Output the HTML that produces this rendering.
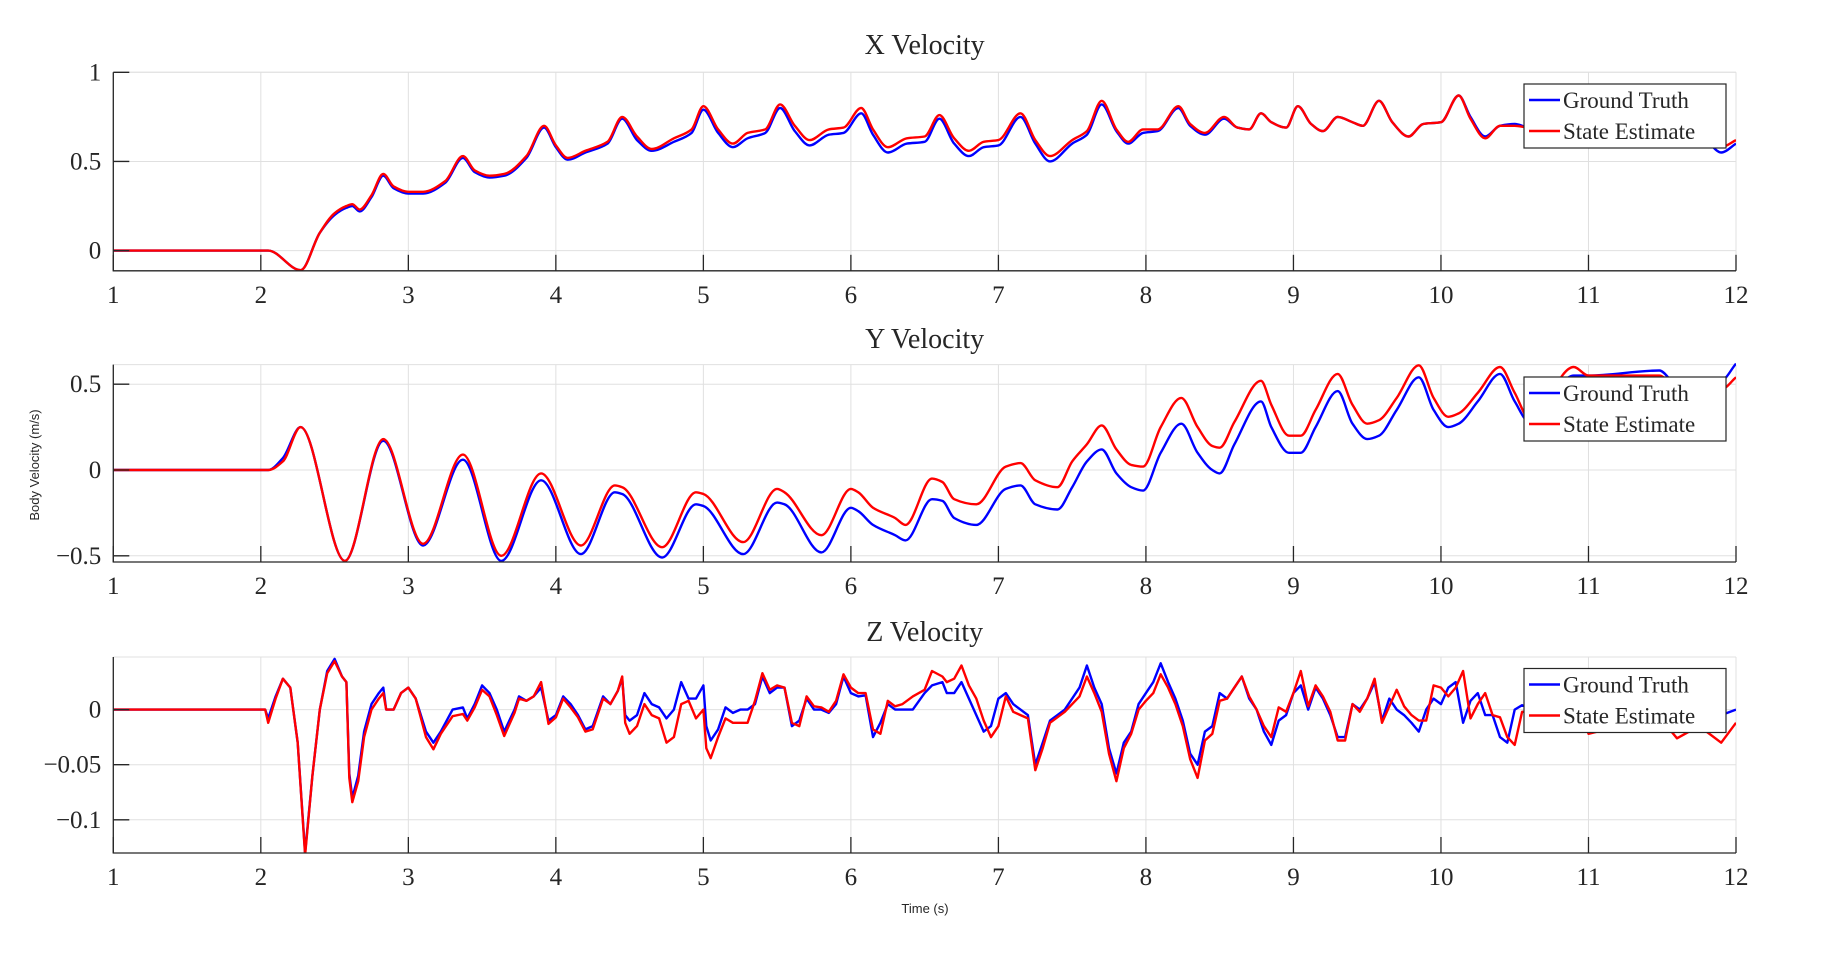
<!DOCTYPE html>
<html><head><meta charset="utf-8"><style>
html,body{margin:0;padding:0;background:#fff;}
svg{display:block;}
text{font-family:"Liberation Serif",serif;fill:#262626;}
</style></head><body>
<svg id="fig" width="1848" height="961" viewBox="0 0 1848 961"></svg>
<script>
// ---- data ----
const xTicks = [1,2,3,4,5,6,7,8,9,10,11,12];
const xT = [1,2.05,2.27,2.4,2.5,2.58,2.62,2.67,2.75,2.83,2.9,3.0,3.1,3.25,3.37,3.45,3.55,3.65,3.8,3.92,4.0,4.08,4.2,4.35,4.45,4.55,4.65,4.8,4.92,5.0,5.1,5.2,5.3,5.42,5.52,5.62,5.72,5.85,5.95,6.07,6.15,6.25,6.38,6.5,6.6,6.7,6.8,6.9,7.0,7.15,7.25,7.35,7.5,7.6,7.7,7.8,7.88,7.98,8.08,8.22,8.3,8.4,8.53,8.62,8.7,8.78,8.85,8.95,9.03,9.12,9.2,9.3,9.4,9.47,9.58,9.67,9.78,9.88,10.0,10.12,10.2,10.3,10.4,10.5,10.6,10.8,11.0,11.2,11.27,11.4,11.6,11.75,11.9,12];
const xGT = [0,0,-0.11,0.1,0.2,0.24,0.25,0.22,0.3,0.42,0.35,0.32,0.32,0.38,0.52,0.44,0.41,0.42,0.52,0.69,0.58,0.51,0.55,0.6,0.74,0.62,0.56,0.61,0.66,0.79,0.66,0.58,0.63,0.66,0.8,0.67,0.59,0.65,0.66,0.77,0.65,0.55,0.6,0.61,0.74,0.6,0.53,0.58,0.59,0.75,0.6,0.5,0.6,0.65,0.82,0.67,0.6,0.66,0.67,0.8,0.7,0.65,0.74,0.69,0.68,0.77,0.72,0.69,0.81,0.71,0.67,0.75,0.72,0.7,0.84,0.72,0.64,0.71,0.72,0.87,0.75,0.64,0.7,0.71,0.69,0.7,0.7,0.66,0.58,0.64,0.68,0.66,0.55,0.6];
const xEst = [0,0,-0.11,0.1,0.21,0.25,0.26,0.23,0.31,0.43,0.36,0.33,0.33,0.39,0.53,0.45,0.42,0.43,0.53,0.7,0.59,0.52,0.56,0.61,0.75,0.64,0.57,0.63,0.68,0.81,0.68,0.6,0.66,0.68,0.82,0.7,0.62,0.68,0.69,0.8,0.68,0.58,0.63,0.64,0.76,0.63,0.56,0.61,0.62,0.77,0.62,0.53,0.62,0.67,0.84,0.68,0.61,0.68,0.68,0.81,0.71,0.66,0.75,0.69,0.68,0.77,0.72,0.69,0.81,0.71,0.67,0.75,0.72,0.7,0.84,0.72,0.64,0.71,0.72,0.87,0.74,0.63,0.7,0.7,0.69,0.7,0.7,0.67,0.6,0.65,0.69,0.67,0.58,0.62];

const yT = [1,2.05,2.15,2.27,2.57,2.83,3.1,3.37,3.63,3.9,4.17,4.4,4.45,4.72,4.95,5.0,5.27,5.5,5.55,5.8,6.0,6.05,6.15,6.3,6.37,6.55,6.62,6.7,6.85,7.05,7.15,7.25,7.4,7.5,7.6,7.7,7.8,7.9,7.98,8.1,8.24,8.35,8.45,8.5,8.6,8.78,8.85,8.97,9.05,9.15,9.3,9.4,9.5,9.58,9.7,9.85,9.95,10.05,10.12,10.25,10.4,10.5,10.6,10.9,11.0,11.48,11.6,11.9,12];
const yGT = [0,0,0.07,0.25,-0.53,0.17,-0.44,0.06,-0.53,-0.06,-0.49,-0.13,-0.14,-0.51,-0.2,-0.21,-0.49,-0.19,-0.2,-0.48,-0.22,-0.24,-0.32,-0.38,-0.41,-0.17,-0.18,-0.28,-0.32,-0.11,-0.09,-0.2,-0.23,-0.1,0.05,0.12,-0.02,-0.1,-0.12,0.1,0.27,0.1,0.0,-0.02,0.15,0.4,0.25,0.1,0.1,0.25,0.46,0.27,0.18,0.2,0.35,0.54,0.35,0.25,0.27,0.4,0.56,0.4,0.28,0.55,0.55,0.58,0.5,0.52,0.62];
const yEst = [0,0,0.05,0.25,-0.53,0.18,-0.43,0.09,-0.5,-0.02,-0.44,-0.09,-0.1,-0.45,-0.13,-0.14,-0.42,-0.11,-0.13,-0.38,-0.11,-0.13,-0.22,-0.28,-0.32,-0.05,-0.07,-0.17,-0.2,0.02,0.04,-0.06,-0.1,0.05,0.15,0.26,0.12,0.03,0.02,0.25,0.42,0.25,0.14,0.13,0.28,0.52,0.38,0.2,0.2,0.35,0.56,0.38,0.27,0.29,0.42,0.61,0.42,0.31,0.33,0.45,0.6,0.45,0.3,0.6,0.55,0.55,0.48,0.47,0.54];

const zT = [1,2.03,2.05,2.1,2.15,2.2,2.25,2.3,2.35,2.4,2.45,2.5,2.55,2.58,2.6,2.62,2.66,2.7,2.75,2.8,2.83,2.85,2.9,2.95,3.0,3.05,3.12,3.17,3.22,3.3,3.37,3.4,3.45,3.5,3.55,3.6,3.65,3.72,3.75,3.8,3.85,3.9,3.95,4.0,4.05,4.1,4.15,4.2,4.25,4.32,4.37,4.42,4.45,4.47,4.5,4.55,4.6,4.65,4.7,4.75,4.8,4.85,4.9,4.95,5.0,5.02,5.05,5.1,5.15,5.2,5.25,5.3,5.35,5.4,5.45,5.5,5.55,5.6,5.65,5.7,5.75,5.8,5.85,5.9,5.95,6.0,6.05,6.1,6.15,6.2,6.25,6.3,6.35,6.42,6.5,6.55,6.62,6.65,6.7,6.75,6.8,6.85,6.9,6.95,7.0,7.05,7.1,7.15,7.2,7.25,7.3,7.35,7.45,7.55,7.6,7.65,7.7,7.75,7.8,7.85,7.9,7.95,8.0,8.05,8.1,8.15,8.2,8.25,8.3,8.35,8.4,8.45,8.5,8.55,8.6,8.65,8.7,8.75,8.8,8.85,8.9,8.95,9.0,9.05,9.1,9.15,9.2,9.25,9.3,9.35,9.4,9.45,9.5,9.55,9.6,9.65,9.7,9.75,9.8,9.85,9.9,9.95,10.0,10.05,10.1,10.15,10.2,10.25,10.3,10.35,10.4,10.45,10.5,10.55,10.95,11.0,11.3,11.45,11.55,11.6,11.75,11.8,11.9,12];
const zGT = [0,0,-0.008,0.012,0.028,0.02,-0.03,-0.13,-0.06,0.0,0.035,0.046,0.03,0.025,-0.058,-0.08,-0.06,-0.02,0.005,0.015,0.02,0.0,0.0,0.015,0.02,0.01,-0.02,-0.03,-0.02,0.0,0.002,-0.008,0.005,0.022,0.015,0.0,-0.02,0.0,0.012,0.008,0.012,0.02,-0.01,-0.005,0.012,0.005,-0.005,-0.018,-0.015,0.012,0.005,0.017,0.028,-0.005,-0.01,-0.005,0.015,0.005,0.002,-0.008,0.0,0.025,0.01,0.01,0.022,-0.015,-0.028,-0.018,0.002,-0.003,0.0,0.0,0.005,0.03,0.015,0.02,0.02,-0.015,-0.01,0.01,0.0,0.0,-0.003,0.005,0.03,0.015,0.012,0.013,-0.025,-0.012,0.005,0.0,0.0,0.0,0.015,0.022,0.025,0.015,0.015,0.025,0.01,-0.005,-0.02,-0.015,0.01,0.015,0.005,0.0,-0.005,-0.05,-0.03,-0.01,0.0,0.02,0.04,0.02,0.005,-0.035,-0.058,-0.03,-0.02,0.005,0.015,0.025,0.042,0.025,0.01,-0.01,-0.04,-0.05,-0.02,-0.015,0.015,0.01,0.02,0.03,0.01,0.0,-0.02,-0.032,-0.01,-0.005,0.015,0.022,0.0,0.02,0.01,-0.005,-0.025,-0.025,0.005,0.0,0.01,0.025,-0.01,0.01,0.0,-0.005,-0.012,-0.02,0.0,0.01,0.005,0.02,0.025,-0.012,0.008,0.015,-0.005,-0.005,-0.025,-0.03,0.0,0.004,-0.02,-0.01,-0.015,-0.012,-0.018,-0.012,-0.002,-0.008,-0.005,0.0];
const zEst = [0,0,-0.012,0.01,0.028,0.02,-0.03,-0.132,-0.06,0.0,0.033,0.044,0.03,0.025,-0.062,-0.084,-0.065,-0.025,0.0,0.01,0.015,0.0,0.0,0.015,0.02,0.01,-0.025,-0.036,-0.022,-0.006,-0.004,-0.01,0.002,0.018,0.012,-0.005,-0.024,-0.003,0.01,0.008,0.012,0.025,-0.013,-0.007,0.01,0.002,-0.007,-0.02,-0.018,0.01,0.005,0.017,0.03,-0.012,-0.022,-0.015,0.005,-0.005,-0.008,-0.03,-0.025,0.005,0.008,-0.008,0.0,-0.035,-0.044,-0.025,-0.008,-0.012,-0.012,-0.012,0.008,0.033,0.018,0.022,0.02,-0.012,-0.015,0.012,0.003,0.002,-0.002,0.008,0.032,0.02,0.015,0.015,-0.018,-0.022,0.008,0.003,0.005,0.012,0.018,0.035,0.03,0.025,0.028,0.04,0.022,0.01,-0.01,-0.025,-0.015,0.012,-0.002,-0.005,-0.008,-0.055,-0.035,-0.012,-0.002,0.012,0.03,0.015,-0.002,-0.04,-0.065,-0.035,-0.022,0.0,0.008,0.015,0.032,0.02,0.005,-0.015,-0.045,-0.062,-0.028,-0.022,0.008,0.01,0.02,0.03,0.012,0.0,-0.015,-0.025,0.002,-0.002,0.015,0.035,0.003,0.022,0.012,-0.002,-0.028,-0.028,0.005,-0.002,0.01,0.028,-0.012,0.003,0.018,0.003,-0.005,-0.01,-0.01,0.022,0.02,0.012,0.02,0.035,-0.008,0.005,0.015,-0.005,-0.007,-0.025,-0.032,-0.002,-0.002,-0.022,-0.012,-0.02,-0.018,-0.026,-0.015,-0.02,-0.03,-0.012,-0.015];

const panels = [
 {name:'x-velocity', title:'X Velocity', T:xT, gt:xGT, est:xEst, top:72.3, bottom:270.8, y0:250.6, ppu:178.3, ticks:[0,0.5,1], labels:['0','0.5','1'], titleY:54, legendTop:84, smooth:true},
 {name:'y-velocity', title:'Y Velocity', T:yT, gt:yGT, est:yEst, top:364.6, bottom:562, y0:470, ppu:171.6, ticks:[-0.5,0,0.5], labels:['-0.5','0','0.5'], titleY:348, legendTop:377, smooth:true},
 {name:'z-velocity', title:'Z Velocity', T:zT, gt:zGT, est:zEst, top:657, bottom:853, y0:709.6, ppu:1102, ticks:[-0.1,-0.05,0], labels:['-0.1','-0.05','0'], titleY:641, legendTop:668.5, smooth:false}
];

const X0 = 113.3, X1 = 1736;
function xs(t){ return X0 + (t-1)*(X1-X0)/11; }
const NS = 'http://www.w3.org/2000/svg';
const svg = document.getElementById('fig');
function mk(tag, attrs, parent){
  const e = document.createElementNS(NS, tag);
  for (const k in attrs) e.setAttribute(k, attrs[k]);
  (parent||svg).appendChild(e); return e;
}
// monotone cubic (Fritsch-Carlson) in screen space
function pathFor(pts, smooth){
  if (!smooth) return pts.map((p,i)=>(i?'L':'M')+p[0].toFixed(1)+','+p[1].toFixed(1)).join(' ');
  const n = pts.length, dx=[], sl=[], m=[];
  for (let i=0;i<n-1;i++){ dx[i]=pts[i+1][0]-pts[i][0]; sl[i]=(pts[i+1][1]-pts[i][1])/dx[i]; }
  m[0]=sl[0]; m[n-1]=sl[n-2];
  for (let i=1;i<n-1;i++){
    if (sl[i-1]*sl[i] <= 0) m[i]=0;
    else { const w1=2*dx[i]+dx[i-1], w2=dx[i]+2*dx[i-1]; m[i]=(w1+w2)/(w1/sl[i-1]+w2/sl[i]); }
  }
  let d='M'+pts[0][0].toFixed(1)+','+pts[0][1].toFixed(1);
  for (let i=0;i<n-1;i++){
    const h=dx[i]/3;
    d+=' C'+(pts[i][0]+h).toFixed(1)+','+(pts[i][1]+m[i]*h).toFixed(1)+' '+(pts[i+1][0]-h).toFixed(1)+','+(pts[i+1][1]-m[i+1]*h).toFixed(1)+' '+pts[i+1][0].toFixed(1)+','+pts[i+1][1].toFixed(1);
  }
  return d;
}

panels.forEach(p => {
  const g = mk('g', {});
  
  
  const ys = v => p.y0 - v*p.ppu;
  xTicks.forEach(t => {
    const l = mk('line', {x1:xs(t), x2:xs(t), y1:p.top, y2:p.bottom, stroke:'#e0e0e0', 'stroke-width':1}, g);
    
    
  });
  p.ticks.forEach(v => {
    const l = mk('line', {x1:X0, x2:X1, y1:ys(v), y2:ys(v), stroke:'#e0e0e0', 'stroke-width':1}, g);
    
    
  });
  mk('line', {x1:X0, x2:X1, y1:p.top, y2:p.top, stroke:'#e0e0e0', 'stroke-width':1}, g);
  const clipId = 'clip-' + p.name;
  const cp = mk('clipPath', {id:clipId}, g);
  mk('rect', {x:X0, y:p.top-2, width:X1-X0, height:p.bottom-p.top+2}, cp);
  [['gt','#0000ff','ground-truth-line'],['est','#ff0000','state-estimate-line']].forEach(([k,c,n]) => {
    const pts = p.T.map((t,i) => [xs(t), ys(p[k][i])]);
    const path = mk('path', {d:pathFor(pts, p.smooth), fill:'none', stroke:c, 'stroke-width':2.4, 'stroke-linejoin':'round', 'clip-path':'url(#'+clipId+')'}, g);
    
    
  });
  const ax = mk('path', {d:'M'+X0+','+p.top+' L'+X0+','+p.bottom+' L'+X1+','+p.bottom, fill:'none', stroke:'#262626', 'stroke-width':1.3}, g);
  
  
  xTicks.forEach(t => {
    mk('line', {x1:xs(t), x2:xs(t), y1:p.bottom, y2:p.bottom-16, stroke:'#262626', 'stroke-width':1.3}, g);
    const tx = mk('text', {x:xs(t), y:p.bottom+32, 'text-anchor':'middle', 'font-size':25}, g);
    tx.textContent = t;
    
    
  });
  p.ticks.forEach((v,i) => {
    mk('line', {x1:X0, x2:X0+16, y1:ys(v), y2:ys(v), stroke:'#262626', 'stroke-width':1.3}, g);
    const tx = mk('text', {x:X0-12, y:ys(v)+8, 'text-anchor':'end', 'font-size':25}, g);
    tx.textContent = p.labels[i].replace('-', '\u2212');
    
    
  });
  const ti = mk('text', {x:(X0+X1)/2, y:p.titleY, 'text-anchor':'middle', 'font-size':28, fill:'#000'}, g);
  ti.textContent = p.title;
  
  
  const lg = mk('g', {}, g);
  
  
  const LX = 1524, LW = 202, LH = 64, LT = p.legendTop;
  mk('rect', {x:LX, y:LT, width:LW, height:LH, fill:'#fff', stroke:'#262626', 'stroke-width':1.2}, lg);
  [['Ground Truth','#0000ff'],['State Estimate','#ff0000']].forEach(([lab,c],i) => {
    const cy = LT + 16 + i*31;
    mk('line', {x1:LX+5, x2:LX+36, y1:cy, y2:cy, stroke:c, 'stroke-width':2.4}, lg);
    const tx = mk('text', {x:LX+39, y:cy+8, 'font-size':23, fill:'#000'}, lg);
    tx.textContent = lab;
    
    
  });
});

const yl = mk('text', {x:0, y:0, 'text-anchor':'middle', 'font-size':13, transform:'translate(39,465) rotate(-90)', style:'font-family:"Liberation Sans",sans-serif'});
yl.textContent = 'Body Velocity (m/s)';


const xl = mk('text', {x:925, y:913, 'text-anchor':'middle', 'font-size':13, style:'font-family:"Liberation Sans",sans-serif'});
xl.textContent = 'Time (s)';


</script>
</body></html>
